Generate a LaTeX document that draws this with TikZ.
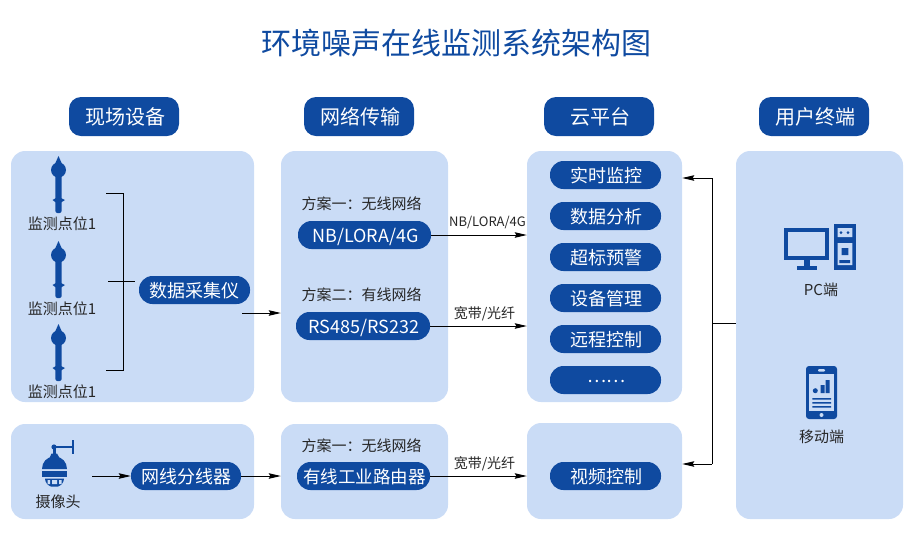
\documentclass[tikz,border=0pt]{standalone}
\usepackage{fontspec}
\setmainfont{Noto Sans CJK SC}
\usetikzlibrary{positioning,arrows.meta}
\definecolor{darkblue}{HTML}{0F4AA0}
\definecolor{paleblue}{HTML}{CADCF6}
\tikzset{
  panel/.style={fill=paleblue, rounded corners=14pt, inner sep=0pt},
  headpill/.style={fill=darkblue, text=white, rounded corners=12pt, font=\fontsize{20}{20}\selectfont, minimum width=110pt, minimum height=39pt, inner sep=0pt, execute at begin node=\hspace{2pt}},
  plainpill/.style={fill=darkblue, text=white, rounded corners=13.5pt, font=\fontsize{18}{18}\selectfont, minimum height=28pt, inner sep=0pt, text height=17pt, text depth=2pt},
  pill/.style={plainpill, execute at begin node=\hspace{2pt}},
  small/.style={font=\fontsize{15}{15}\selectfont, text=black!85, inner sep=0pt},
  conn/.style={-{Stealth[length=12pt,width=5.5pt,inset=1.5pt]}, black, line width=1pt},
  line/.style={black, line width=1pt}
}
\begin{document}
\begin{tikzpicture}[x=1pt, y=-1pt]
  \useasboundingbox (0,0) rectangle (911,558);
  \node[font=\fontsize{30}{30}\selectfont, text=darkblue, inner sep=0pt] (title) at (456,43) {环境噪声在线监测系统架构图};
  % column heads
  \foreach \x/\name/\txt in {124/headdev/现场设备,359/headnet/网络传输,599/headcloud/云平台,814/headuser/用户终端}{\node[headpill] (\name) at (\x,116.5) {\txt};}
  % panels
  \foreach \x/\y/\w/\h/\name in {132.5/276.5/243/251/devpanel,132.5/471.5/243/95/campanel,364.5/276.5/167/251/netpanel,364.5/471.5/167/95/vidnet,604.5/276.5/155/251/cloudpanel,604.5/471/155/96/vidcloud,819.5/335/167/368/userpanel}{\node[panel, minimum width=\w pt, minimum height=\h pt] (\name) at (\x,\y) {};}
  % towers
  \foreach \y/\name in {0/a,85/b,168/c}{
    \begin{scope}[yshift=-\y pt]
      \fill[darkblue] (58.5,156) -- (62.5,165) -- (54.5,165) -- cycle;
      \fill[darkblue] (58.5,170) circle[radius=7.5pt];
      \fill[darkblue, rounded corners=2pt] (55.4,172) rectangle (61.6,213);
      \fill[darkblue] (52.5,200) -- (56,198) -- (61,198) -- (65,200) -- (61,202.5) -- (56,202.5) -- cycle;
    \end{scope}
    \node[small] (tower\name) at (62,224+\y) {监测点位1};
  }
  % camera
  \fill[darkblue] (72,440) rectangle (74,454);
  \fill[darkblue] (54,446.3) rectangle (72,448);
  \fill[darkblue] (54,447) circle[radius=2.6pt];
  \fill[darkblue] (53,448) rectangle (55.5,454);
  \fill[darkblue] (50,457) -- (51.5,453.5) -- (57,453.5) -- (59,457) -- cycle;
  \fill[darkblue] (42,469) .. controls (42,462) and (47,456.5) .. (54.5,456.5) .. controls (62,456.5) and (67,462) .. (67,469) -- cycle;
  \fill[darkblue] (42,470.5) rectangle (67,477);
  \fill[darkblue] (45,478.5) -- (64,478.5) .. controls (64,482) and (61,486) .. (58,486.5) -- (51,486.5) .. controls (48,486) and (45,482) .. (45,478.5) -- cycle;
  \fill[paleblue] (47.5,480) rectangle (50,484) (52,480) rectangle (57,484) (59,480) rectangle (61.5,484);
  \node[small] (camera) at (58,501.5) {摄像头};
  % pc
  \draw[darkblue, line width=4pt] (786,230) rectangle (827,258);
  \fill[darkblue] (804,260) rectangle (810,267);
  \fill[darkblue] (797,266) rectangle (817,270);
  \fill[darkblue] (833.5,224) rectangle (856,269.5);
  \fill[paleblue] (837.7,228) rectangle (852.3,237) (837.7,243) rectangle (852.3,265);
  \fill[darkblue] (841,232.7) circle[radius=1.5pt] (848,232.7) circle[radius=1.5pt] (841.7,248) rectangle (848.3,255) (839.3,260) rectangle (850,263);
  \node[small] (pc) at (821,290) {PC端};
  % phone
  \fill[darkblue, rounded corners=3pt] (806,366) rectangle (837,419);
  \fill[paleblue] (809.3,374) rectangle (834,410.5);
  \fill[paleblue, rounded corners=1pt] (818,369) rectangle (825,371.5);
  \fill[paleblue] (821.5,415) circle[radius=2pt];
  \fill[darkblue] (815.3,390.7) circle[radius=2.5pt] (820.7,385) rectangle (824.5,393) (825.5,380) rectangle (829.5,393);
  \fill[darkblue] (812.3,398) rectangle (831,399.7) (812.3,402) rectangle (831,403.7) (812.3,406) rectangle (831,407.7);
  \node[small] (mobile) at (821.5,437) {移动端};
  % middle
  \node[plainpill, minimum width=111pt] (collector) at (194.5,290) {数据采集仪};
  \node[plainpill, minimum width=110pt] (splitter) at (186,476) {网线分线器};
  \node[small] (planA) at (361.5,203.5) {方案一：无线网络};
  \node[pill, minimum width=133pt] (nb) at (364.5,235) {NB/LORA/4G};
  \node[small] (planB) at (361.5,295) {方案二：有线网络};
  \node[pill, minimum width=134pt] (rs) at (363,326) {RS485/RS232};
  \node[small] (planC) at (361.5,445.5) {方案一：无线网络};
  \node[pill, minimum width=133pt, font=\fontsize{17.5}{18}\selectfont] (router) at (363.5,476) {有线工业路由器};
  % cloud
  \foreach \y/\name/\txt in {175/monitor/实时监控,216/analysis/数据分析,257/alarm/超标预警,298/manage/设备管理,339/remote/远程控制,380/more/\raisebox{5.5pt}{……},476/video/视频控制}{\node[pill, minimum width=111pt] (\name) at (605.5,\y) {\txt};}
  % connectors
  \coordinate (bracketA) at (106,193);
  \coordinate (bracketB) at (123,193);
  \coordinate (bracketC) at (123,370);
  \coordinate (bracketD) at (106,370);
  \coordinate (midA) at (108,281);
  \coordinate (midB) at (135,281);
  \coordinate (devout) at (242,313);
  \coordinate (camout) at (92,476);
  \coordinate (hub) at (712,323);
  \coordinate (hubtop) at (712,178);
  \coordinate (hubbot) at (712,464);
  \draw[line] (bracketA) -- (bracketB) -- (bracketC) -- (bracketD);
  \draw[line] (midA) -- (midB);
  \draw[conn] (devout) -- (devout -| netpanel.west);
  \draw[conn] (camout) -- (splitter.west);
  \draw[conn] (splitter.east) -- (splitter.east -| vidnet.west);
  \draw[conn] (nb.east) -- (nb.east -| cloudpanel.west) node[midway, above=5.5pt, xshift=8.5pt, small, font=\fontsize{13}{13}\selectfont] (nblabel) {NB/LORA/4G};
  \draw[conn] (rs.east) -- (rs.east -| cloudpanel.west) node[midway, above=5pt, xshift=6pt, small, font=\fontsize{14}{14}\selectfont] (rslabel) {宽带/光纤};
  \draw[conn] (router.east) -- (router.east -| vidcloud.west) node[midway, above=5pt, xshift=6pt, small, font=\fontsize{14}{14}\selectfont] (routerlabel) {宽带/光纤};
  \draw[line] (hub -| userpanel.west) -- (hub);
  \draw[conn] (hubtop) -- (hubtop -| cloudpanel.east);
  \draw[conn] (hubbot) -- (hubbot -| vidcloud.east);
  \draw[line] (hubtop) -- (hubbot);
\end{tikzpicture}
\end{document}
